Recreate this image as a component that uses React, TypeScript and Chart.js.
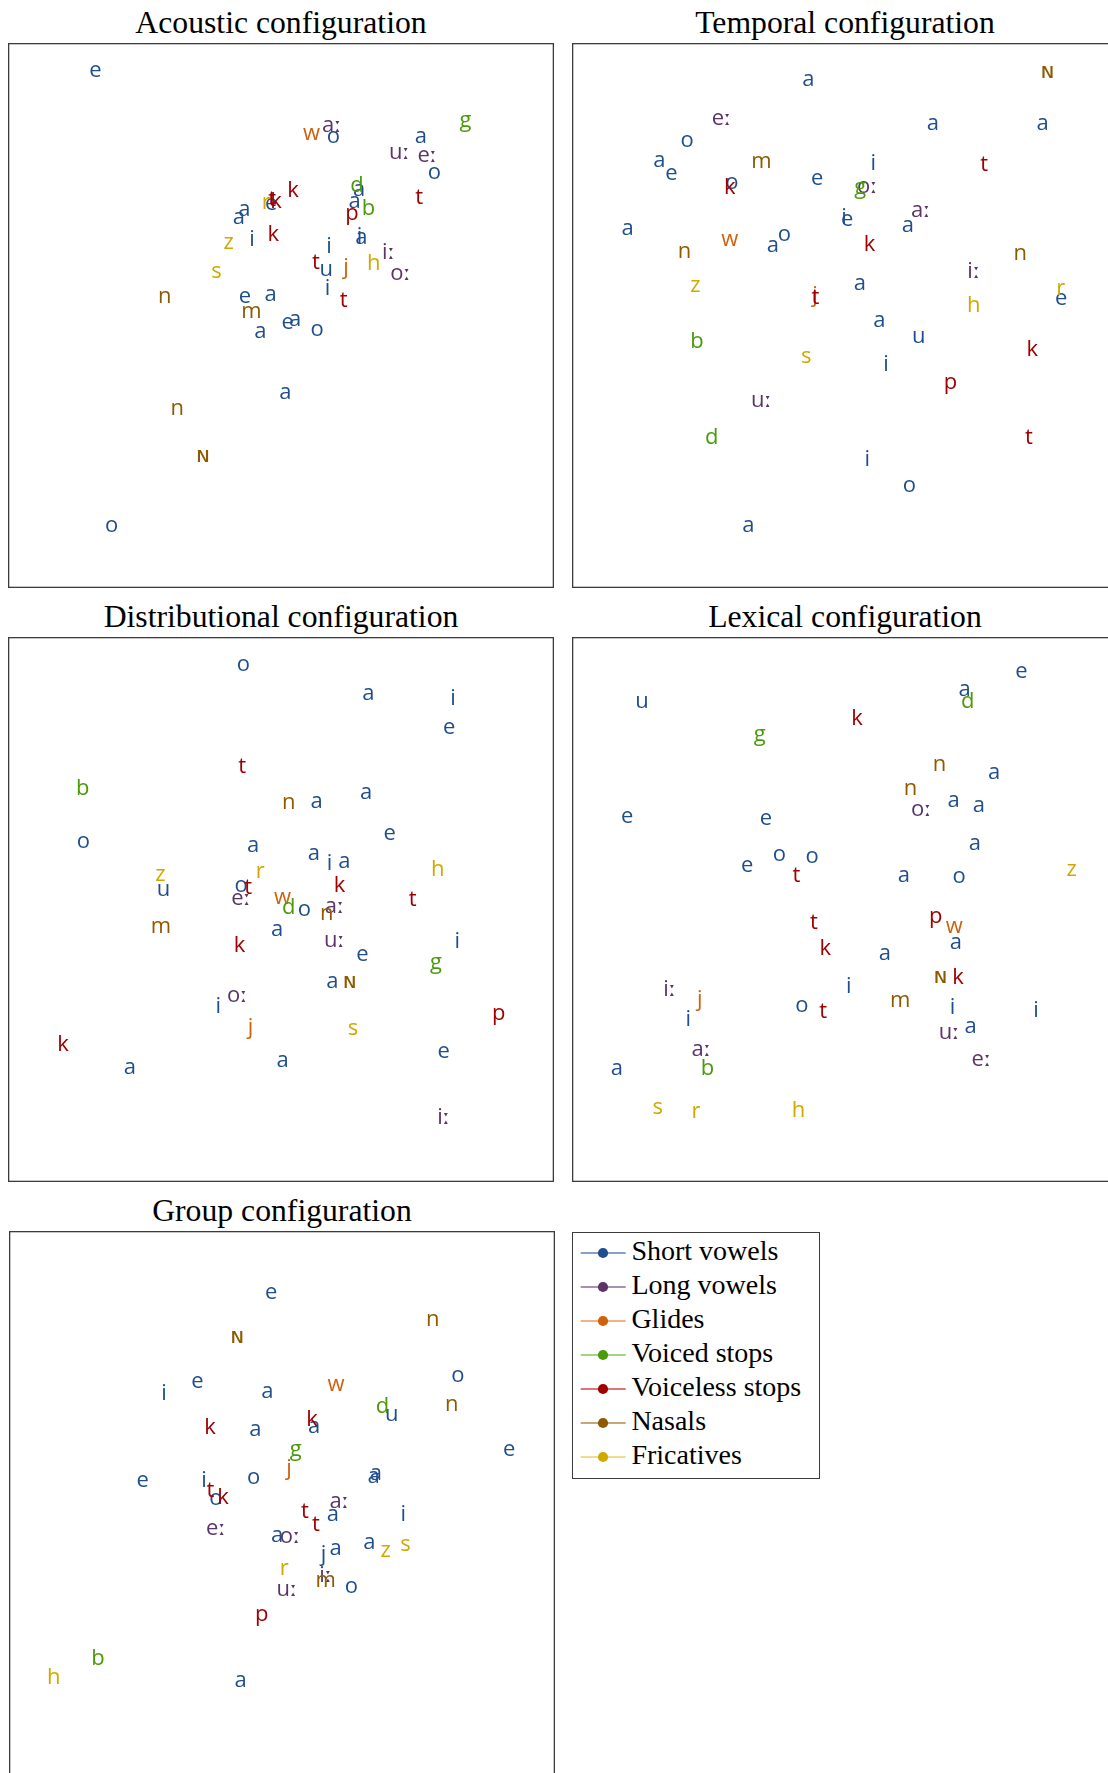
import React, { useEffect, useRef } from 'react';
import { Chart, registerables } from 'chart.js';

Chart.register(...registerables);

// ---------- data ----------
const categories = ['Short vowels', 'Long vowels', 'Glides', 'Voiced stops', 'Voiceless stops', 'Nasals', 'Fricatives'];
const categoryColors = ['#1f4e8e', '#5b3468', '#d0600a', '#4a9a0a', '#a00000', '#8e5a00', '#d0a800'];
const legendLineColors = ['#5f82b6', '#8c6a98', '#eb9a5c', '#86c45a', '#cf4a4a', '#b48a4a', '#e8d06a'];

// [label, category index, dimension 1, dimension 2]
type Pt = [string, number, number, number];

const acousticPoints: Pt[] = [
  ['e', 0, 16.0, 94.9], ['w', 2, 55.6, 83.3], ['aː', 1, 59.3, 84.7], ['o', 0, 59.6, 82.7],
  ['a', 0, 75.6, 82.8], ['g', 3, 83.8, 85.6], ['uː', 1, 71.7, 79.8], ['eː', 1, 76.8, 79.2],
  ['o', 0, 78.1, 76.1], ['d', 3, 63.9, 73.8], ['a', 0, 64.3, 73.0], ['a', 0, 63.5, 70.9],
  ['b', 3, 66.0, 69.6], ['t', 4, 75.3, 71.5], ['k', 4, 52.2, 72.9], ['r', 6, 47.3, 70.7],
  ['e', 0, 48.2, 70.5], ['t', 4, 48.4, 71.2], ['k', 4, 49.1, 70.9], ['a', 0, 43.3, 69.4],
  ['a', 0, 42.3, 67.9], ['p', 4, 63.0, 68.6], ['z', 6, 40.4, 63.3], ['i', 0, 44.7, 63.9],
  ['k', 4, 48.6, 64.7], ['i', 0, 58.8, 62.6], ['i', 0, 64.4, 64.4], ['a', 0, 64.7, 64.2],
  ['iː', 1, 69.7, 61.4], ['h', 6, 67.0, 59.5], ['oː', 1, 71.9, 57.6], ['t', 4, 56.4, 59.6],
  ['u', 0, 58.3, 58.3], ['j', 2, 61.9, 58.8], ['s', 6, 38.2, 57.9], ['n', 5, 28.7, 53.4],
  ['e', 0, 43.4, 53.4], ['a', 0, 48.1, 53.7], ['i', 0, 58.5, 54.8], ['t', 4, 61.5, 52.7],
  ['m', 5, 44.6, 50.6], ['e', 0, 51.2, 48.6], ['a', 0, 52.6, 49.2], ['a', 0, 46.2, 47.0],
  ['o', 0, 56.6, 47.4], ['a', 0, 50.8, 35.8], ['n', 5, 31.0, 32.8], ['ɴ', 5, 35.7, 24.3],
  ['o', 0, 19.0, 11.4],
];

const temporalPoints: Pt[] = [
  ['a', 0, 43.3, 93.3], ['ɴ', 5, 87.1, 94.7], ['eː', 1, 27.4, 86.0], ['a', 0, 66.1, 85.2],
  ['a', 0, 86.2, 85.2], ['o', 0, 21.1, 82.1], ['a', 0, 16.0, 78.4], ['e', 0, 18.2, 75.9],
  ['m', 5, 34.7, 78.1], ['i', 0, 55.2, 77.8], ['t', 4, 75.5, 77.7], ['o', 0, 29.3, 74.3],
  ['k', 4, 28.9, 73.4], ['e', 0, 44.9, 75.1], ['oː', 1, 54.1, 73.5], ['g', 3, 52.8, 73.4],
  ['i', 0, 49.8, 67.9], ['e', 0, 50.4, 67.5], ['aː', 1, 63.9, 69.1], ['a', 0, 61.5, 66.5],
  ['a', 0, 10.2, 65.8], ['w', 2, 28.9, 63.9], ['a', 0, 36.8, 62.8], ['o', 0, 38.9, 64.7],
  ['k', 4, 54.5, 63.0], ['n', 5, 20.6, 61.7], ['n', 5, 82.1, 61.2], ['z', 6, 22.6, 55.4],
  ['iː', 1, 73.6, 57.9], ['a', 0, 52.7, 55.8], ['j', 2, 44.5, 53.5], ['t', 4, 44.6, 53.3],
  ['r', 6, 89.5, 54.8], ['e', 0, 89.6, 53.0], ['h', 6, 73.6, 51.8], ['a', 0, 56.3, 48.9],
  ['u', 0, 63.5, 46.1], ['b', 3, 22.9, 45.1], ['k', 4, 84.3, 43.7], ['s', 6, 42.9, 42.3],
  ['i', 0, 57.5, 40.9], ['p', 4, 69.3, 37.7], ['uː', 1, 34.7, 34.4], ['d', 3, 25.6, 27.6],
  ['t', 4, 83.7, 27.6], ['i', 0, 54.1, 23.4], ['o', 0, 61.8, 18.7], ['a', 0, 32.3, 11.4],
];

const distributionalPoints: Pt[] = [
  ['o', 0, 43.1, 94.9], ['a', 0, 66.0, 89.5], ['i', 0, 81.5, 88.6], ['e', 0, 80.8, 83.3],
  ['t', 4, 42.9, 76.2], ['b', 3, 13.7, 72.2], ['n', 5, 51.4, 69.6], ['a', 0, 56.5, 69.8],
  ['a', 0, 65.6, 71.4], ['o', 0, 13.8, 62.4], ['e', 0, 69.9, 63.8], ['a', 0, 44.9, 61.7],
  ['a', 0, 56.0, 60.2], ['i', 0, 58.9, 58.3], ['a', 0, 61.6, 58.8], ['h', 6, 78.7, 57.2],
  ['z', 6, 27.9, 56.3], ['u', 0, 28.5, 53.5], ['r', 6, 46.2, 56.9], ['o', 0, 42.7, 54.4],
  ['t', 4, 44.0, 54.0], ['eː', 1, 42.7, 52.0], ['k', 4, 60.7, 54.4], ['t', 4, 74.1, 51.8],
  ['w', 2, 50.3, 52.1], ['d', 3, 51.4, 50.2], ['o', 0, 54.3, 50.0], ['aː', 1, 59.8, 50.5],
  ['n', 5, 58.4, 49.1], ['m', 5, 28.0, 46.7], ['a', 0, 49.3, 46.3], ['uː', 1, 59.8, 44.2],
  ['k', 4, 42.4, 43.3], ['i', 0, 82.3, 44.0], ['e', 0, 64.9, 41.6], ['g', 3, 78.4, 40.2],
  ['a', 0, 59.4, 36.7], ['ɴ', 5, 62.6, 36.7], ['oː', 1, 42.0, 34.1], ['i', 0, 38.5, 32.1],
  ['p', 4, 89.9, 30.9], ['j', 2, 44.4, 28.3], ['s', 6, 63.2, 28.1], ['k', 4, 10.1, 25.2],
  ['a', 0, 22.3, 20.9], ['a', 0, 50.3, 22.2], ['e', 0, 79.8, 23.8], ['iː', 1, 79.8, 11.8],
];

const lexicalPoints: Pt[] = [
  ['u', 0, 12.8, 88.0], ['e', 0, 82.3, 93.5], ['a', 0, 71.9, 90.3], ['d', 3, 72.5, 88.1],
  ['k', 4, 52.2, 84.9], ['g', 3, 34.4, 82.0], ['n', 5, 67.3, 76.6], ['a', 0, 77.3, 75.0],
  ['n', 5, 62.0, 72.1], ['oː', 1, 64.0, 68.2], ['a', 0, 69.9, 70.0], ['a', 0, 74.5, 68.9],
  ['e', 0, 10.1, 67.0], ['e', 0, 35.5, 66.6], ['a', 0, 73.8, 62.1], ['o', 0, 38.0, 60.0],
  ['o', 0, 44.0, 59.6], ['e', 0, 32.1, 57.9], ['t', 4, 41.1, 56.1], ['a', 0, 60.8, 56.2],
  ['o', 0, 70.9, 56.0], ['z', 6, 91.5, 57.2], ['p', 4, 66.6, 48.6], ['w', 2, 70.0, 46.8],
  ['t', 4, 44.3, 47.5], ['a', 0, 70.3, 43.9], ['k', 4, 46.4, 42.8], ['a', 0, 57.3, 41.8],
  ['ɴ', 5, 67.5, 37.7], ['k', 4, 70.7, 37.5], ['iː', 1, 17.9, 35.3], ['j', 2, 23.4, 33.4],
  ['i', 0, 50.7, 35.8], ['m', 5, 60.1, 33.3], ['i', 0, 69.7, 32.0], ['i', 0, 85.0, 31.4],
  ['o', 0, 42.1, 32.3], ['t', 4, 46.0, 31.2], ['i', 0, 21.3, 29.7], ['uː', 1, 69.1, 27.4],
  ['a', 0, 73.0, 28.4], ['aː', 1, 23.7, 24.2], ['b', 3, 24.8, 20.7], ['a', 0, 8.2, 20.7],
  ['eː', 1, 75.0, 22.4], ['s', 6, 15.7, 13.5], ['r', 6, 22.7, 12.8], ['h', 6, 41.5, 13.0],
];

const groupPoints: Pt[] = [
  ['e', 0, 48.0, 88.6], ['n', 5, 77.6, 83.6], ['ɴ', 5, 41.8, 80.5], ['o', 0, 82.2, 73.4],
  ['i', 0, 28.4, 70.1], ['e', 0, 34.5, 72.3], ['a', 0, 47.3, 70.5], ['w', 2, 59.9, 71.8],
  ['d', 3, 68.4, 67.7], ['u', 0, 70.1, 66.3], ['n', 5, 81.1, 68.1], ['k', 4, 36.8, 63.8],
  ['a', 0, 45.1, 63.4], ['k', 4, 55.5, 65.3], ['a', 0, 55.9, 64.1], ['e', 0, 91.6, 59.8],
  ['g', 3, 52.5, 59.8], ['j', 2, 51.3, 56.4], ['a', 0, 67.2, 55.5], ['a', 0, 66.8, 54.9],
  ['e', 0, 24.5, 54.2], ['i', 0, 35.7, 54.2], ['o', 0, 44.8, 54.7], ['t', 4, 36.9, 52.3],
  ['o', 0, 37.9, 50.8], ['k', 4, 39.2, 51.0], ['aː', 1, 60.5, 50.3], ['t', 4, 54.2, 48.4],
  ['a', 0, 59.3, 47.9], ['t', 4, 56.2, 46.0], ['i', 0, 72.2, 47.9], ['eː', 1, 37.9, 45.4],
  ['a', 0, 49.1, 44.1], ['oː', 1, 51.5, 43.9], ['j', 0, 57.6, 40.5], ['a', 0, 59.8, 41.6],
  ['a', 0, 66.0, 42.7], ['z', 6, 69.0, 41.2], ['s', 6, 72.6, 42.4], ['r', 6, 50.4, 37.9],
  ['iː', 1, 58.0, 36.7], ['m', 5, 58.0, 35.7], ['uː', 1, 50.9, 34.2], ['o', 0, 62.7, 34.7],
  ['p', 4, 46.3, 29.5], ['b', 3, 16.3, 21.5], ['h', 6, 8.2, 17.9], ['a', 0, 42.4, 17.5],
];

const panelTitles = [
  'Acoustic configuration',
  'Temporal configuration',
  'Distributional configuration',
  'Lexical configuration',
  'Group configuration',
];

// ---------- plugins ----------
const textLabelPlugin = {
  id: 'textLabels',
  afterDatasetsDraw(chart: any) {
    const ctx = chart.ctx;
    ctx.save();
    ctx.font = '22px "Open Sans", "DejaVu Sans", sans-serif';
    ctx.textAlign = 'center';
    ctx.textBaseline = 'alphabetic';
    chart.data.datasets.forEach((ds: any, i: number) => {
      const meta = chart.getDatasetMeta(i);
      ctx.fillStyle = ds.borderColor;
      meta.data.forEach((el: any, j: number) => {
        ctx.fillText(ds.data[j].t, el.x, el.y + 6);
      });
    });
    ctx.restore();
  },
};

const framePlugin = {
  id: 'frame',
  afterDraw(chart: any) {
    const { left, top, width, height } = chart.chartArea;
    const ctx = chart.ctx;
    ctx.save();
    ctx.strokeStyle = '#3c3c3c';
    ctx.lineWidth = 1.3;
    ctx.strokeRect(left + 0.65, top + 0.65, width - 1.3, height - 1.3);
    ctx.restore();
  },
};

const BOX_W = 546;
const BOX_H = 545;

function Panel({ title, points, left, top }: { title: string; points: Pt[]; left: number; top: number }) {
  const ref = useRef<HTMLCanvasElement | null>(null);
  useEffect(() => {
    if (!ref.current) return;
    const datasets = categories.map((name, ci) => ({
      label: name,
      data: points.filter((p) => p[1] === ci).map((p) => ({ x: p[2], y: p[3], t: p[0] })),
      pointRadius: 0,
      pointHoverRadius: 0,
      borderColor: categoryColors[ci],
      backgroundColor: categoryColors[ci],
    }));
    const chart = new Chart(ref.current, {
      type: 'scatter',
      data: { datasets } as any,
      options: {
        responsive: false,
        animation: false,
        events: [],
        layout: { padding: 0 },
        plugins: { legend: { display: false }, tooltip: { enabled: false }, title: { display: false } },
        scales: {
          x: { type: 'linear', min: 0, max: 100, display: false },
          y: { type: 'linear', min: 0, max: 100, display: false },
        },
      },
      plugins: [textLabelPlugin, framePlugin],
    } as any);
    return () => chart.destroy();
  }, [points]);

  return (
    <>
      <div
        style={{
          position: 'absolute',
          left,
          top: top - 36.5,
          width: BOX_W,
          textAlign: 'center',
          fontFamily: '"Liberation Serif", serif',
          fontSize: 31.7,
          lineHeight: '31.7px',
          whiteSpace: 'nowrap',
          color: '#000',
        }}
      >
        {title}
      </div>
      <canvas
        ref={ref}
        width={BOX_W}
        height={BOX_H}
        style={{ position: 'absolute', left, top, width: BOX_W, height: BOX_H }}
      />
    </>
  );
}

function Legend({ left, top }: { left: number; top: number }) {
  return (
    <div
      style={{
        position: 'absolute',
        left,
        top,
        width: 248,
        height: 247,
        border: '1.3px solid #3c3c3c',
        boxSizing: 'border-box',
        background: '#fff',
      }}
    >
      {categories.map((name, i) => (
        <div key={name} style={{ position: 'absolute', left: 0, top: 3 + 34 * i, width: 244, height: 34 }}>
          <svg width={58} height={34} style={{ position: 'absolute', left: 0, top: 0 }}>
            <line x1={7.7} y1={17} x2={52.7} y2={17} stroke={legendLineColors[i]} strokeWidth={1.6} />
            <circle cx={30} cy={17} r={5.1} fill={categoryColors[i]} />
          </svg>
          <span
            style={{
              position: 'absolute',
              left: 58.4,
              top: -2,
              fontFamily: '"Liberation Serif", serif',
              fontSize: 28,
              lineHeight: '34px',
              whiteSpace: 'nowrap',
              color: '#000',
            }}
          >
            {name}
          </span>
        </div>
      ))}
    </div>
  );
}

export default function App() {
  return (
    <div
      style={{
        position: 'fixed',
        left: 0,
        top: 0,
        width: 1108,
        height: 1773,
        overflow: 'hidden',
        background: '#fff',
      }}
    >
      <Panel title={panelTitles[0]} points={acousticPoints} left={8} top={43} />
      <Panel title={panelTitles[1]} points={temporalPoints} left={572} top={43} />
      <Panel title={panelTitles[2]} points={distributionalPoints} left={8} top={637} />
      <Panel title={panelTitles[3]} points={lexicalPoints} left={572} top={637} />
      <Panel title={panelTitles[4]} points={groupPoints} left={9} top={1231} />
      <Legend left={572} top={1232} />
    </div>
  );
}
